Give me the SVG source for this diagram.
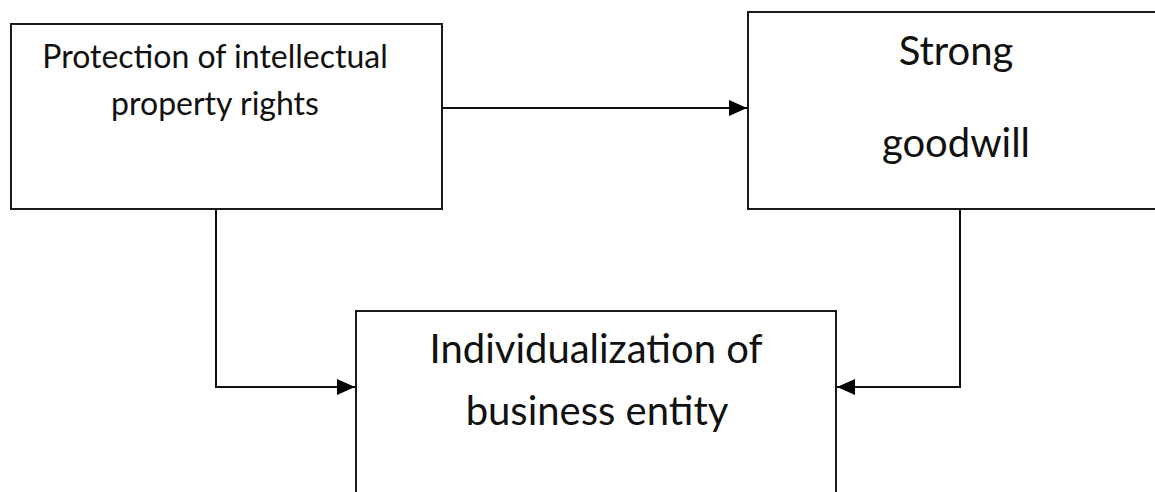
<svg xmlns="http://www.w3.org/2000/svg" width="1155" height="492" viewBox="0 0 1155 492">
<style>
.box{fill:#fff;stroke:#1a1a1a;stroke-width:2}
.conn{fill:none;stroke:#111;stroke-width:2}
.t{font-family:Lato,"Open Sans",sans-serif;fill:#111;text-anchor:middle}
.s1{font-size:32px}
.s2{font-size:40px}
</style>
<defs>
<marker id="ah" markerWidth="18" markerHeight="16" refX="18" refY="8" orient="auto" markerUnits="userSpaceOnUse">
<path d="M0,0 L18,8 L0,16 Z" fill="#000"/>
</marker>
</defs>
<rect width="1155" height="492" fill="#fff"/>
<g id="n1">
<rect class="box" x="11" y="24" width="431" height="185"/>
<text class="t s1" x="215" y="68">Protection of intellectual</text>
<text class="t s1" x="215" y="115">property rights</text>
</g>
<g id="n2">
<rect class="box" x="748" y="12" width="420" height="197"/>
<text class="t s2" x="956" y="65">Strong</text>
<text class="t s2" x="956" y="157">goodwill</text>
</g>
<g id="n3">
<rect class="box" x="356" y="311" width="480" height="200"/>
<text class="t s2" x="596" y="363">Individualization of</text>
<text class="t s2" x="597" y="425">business entity</text>
</g>
<g id="connectors">
<path class="conn" d="M442,108 H747" marker-end="url(#ah)"/>
<path class="conn" d="M216,209 V387 H355" marker-end="url(#ah)"/>
<path class="conn" d="M960,209 V387 H837" marker-end="url(#ah)"/>
</g>
</svg>
